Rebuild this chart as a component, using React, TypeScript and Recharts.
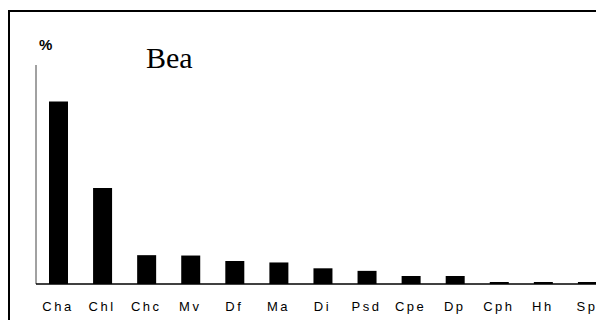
import React from "react";
import { BarChart, Bar, XAxis, YAxis } from "recharts";

const categories = ["Cha", "Chl", "Chc", "Mv", "Df", "Ma", "Di", "Psd", "Cpe", "Dp", "Cph", "Hh", "Sp"];
const values = [50, 26.3, 7.9, 7.8, 6.3, 5.9, 4.3, 3.6, 2.2, 2.2, 0.55, 0.55, 0.55];
const yDomain: [number, number] = [0, 60];
const title = "Bea";
const unit = "%";

const data = categories.map((c, i) => ({ name: c, value: values[i] }));

export default function App() {
  return (
    <div style={{ position: "absolute", left: 0, top: 0, width: 596, height: 320, overflow: "hidden", background: "#fff" }}>
      <div
        style={{
          position: "absolute",
          left: 8,
          top: 10,
          width: 640,
          height: 340,
          border: "2px solid #000",
        }}
      >
        <BarChart
          width={640}
          height={320}
          data={data}
          margin={{ top: 53, left: 16, right: 41, bottom: 18 }}
          barCategoryGap={0}
        >
          <YAxis
            width={10}
            domain={yDomain}
            tick={false}
            tickLine={false}
            axisLine={{ stroke: "#444", strokeWidth: 1 }}
          />
          <XAxis
            dataKey="name"
            height={30}
            tickLine={false}
            axisLine={{ stroke: "#000", strokeWidth: 1.5 }}
            interval={0}
            tick={{ fill: "#000", fontSize: 13, fontFamily: "Liberation Sans, Arial, sans-serif", letterSpacing: 2.5 }}
            tickMargin={12}
          />
          <Bar dataKey="value" fill="#000" barSize={19} isAnimationActive={false} />
        </BarChart>
      </div>
      <div
        style={{
          position: "absolute",
          left: 39,
          top: 36,
          fontFamily: "Liberation Sans, Arial, sans-serif",
          fontWeight: "bold",
          fontSize: 15,
          color: "#000",
        }}
      >
        {unit}
      </div>
      <div
        style={{
          position: "absolute",
          left: 146,
          top: 41,
          fontFamily: "Liberation Serif, Times New Roman, serif",
          fontSize: 30,
          lineHeight: "34px",
          color: "#000",
        }}
      >
        {title}
      </div>
    </div>
  );
}
